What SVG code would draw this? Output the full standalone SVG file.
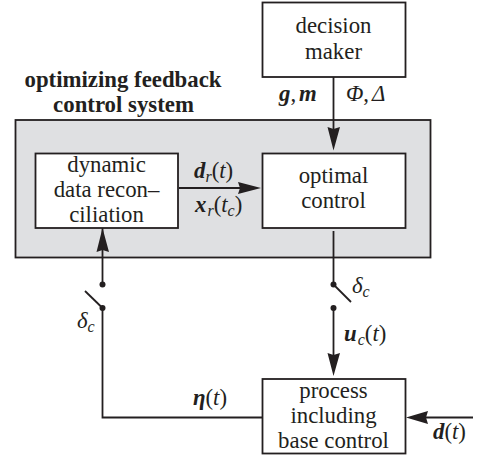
<svg xmlns="http://www.w3.org/2000/svg" width="480" height="457" viewBox="0 0 480 457">
<style>
.b{fill:#fff;stroke:#231f20;stroke-width:1.800}
text{font-family:"Liberation Serif","Times New Roman",serif;font-size:22.800px;fill:#231f20}
.c{text-anchor:middle}
.t{font-weight:bold;font-size:22.800px}
.i{font-style:italic}
.bi{font-style:italic;font-weight:bold}
.s{font-size:16px;font-style:italic}
.l{fill:none;stroke:#231f20;stroke-width:1.800}
.a{fill:#231f20;stroke:none}
.d{fill:#231f20}
</style>
<rect width="480" height="457" fill="#fff"/>
<g id="system"><rect x="15.500" y="120" width="415" height="137.500" fill="#dfe0e2" stroke="#231f20" stroke-width="1.800"/></g>
<text class="t c" x="123" y="87">optimizing feedback</text>
<text class="t c" x="123.500" y="112">control system</text>
<g id="connectors">
<path class="l" d="M333.500 77V136"/>
<path class="a" d="M327.500 127L333.500 129L340 127L333.500 150.500Z"/>
<path class="l" d="M179 188H246"/>
<path class="a" d="M238 182L240 188L238 194L261 188Z"/>
<path class="l" d="M102.500 228V284"/>
<path class="a" d="M96.500 252L102.500 250L109 252L102.500 228Z"/>
<path class="l" d="M333.500 231V284"/>
<circle class="d" cx="102.500" cy="284.500" r="3"/>
<circle class="d" cx="102.500" cy="308" r="3"/>
<path class="l" d="M102.500 308L85 291"/>
<circle class="d" cx="333.500" cy="284.500" r="3"/>
<circle class="d" cx="333.500" cy="308" r="3"/>
<path class="l" d="M333.500 284.500L351 302"/>
<path class="l" d="M333.500 308V360"/>
<path class="a" d="M327.500 353L333.500 355L340 353L333.500 376Z"/>
<path class="l" d="M102.500 308V417.500H262"/>
<path class="l" d="M473 417.500H420"/>
<path class="a" d="M428 411L426 417.500L428 424L406 417.500Z"/>
</g>
<g id="decision-maker"><rect class="b" x="262.500" y="2.500" width="143" height="74.500"/>
<text class="c" x="333.500" y="33">decision</text><text class="c" x="333.500" y="58.500">maker</text></g>
<g id="dynamic-data-reconciliation"><rect class="b" x="35.500" y="153.500" width="142.500" height="74.500"/>
<text class="c" x="106.500" y="172">dynamic</text><text class="c" x="106.500" y="197">data recon–</text><text class="c" x="106.500" y="222">ciliation</text></g>
<g id="optimal-control"><rect class="b" x="262.500" y="153.500" width="143" height="74.500"/>
<text class="c" x="333.500" y="183">optimal</text><text class="c" x="333.500" y="208">control</text></g>
<g id="process"><rect class="b" x="262.500" y="379" width="143" height="74.500"/>
<text class="c" x="333.500" y="398">process</text><text class="c" x="333.500" y="423">including</text><text class="c" x="333.500" y="448">base control</text></g>
<g id="labels">
<text x="279" y="101"><tspan class="bi">g</tspan>,<tspan class="bi" dx="3">m</tspan></text>
<text x="346" y="101"><tspan class="i">Φ</tspan>,<tspan class="i" dx="3">Δ</tspan></text>
<text x="194" y="178"><tspan class="bi">d</tspan><tspan class="s" dy="4">r</tspan><tspan dy="-4">(</tspan><tspan class="i">t</tspan>)</text>
<text x="195" y="212"><tspan class="bi">x</tspan><tspan class="s" dy="4" dx="1">r</tspan><tspan dy="-4">(</tspan><tspan class="i">t</tspan><tspan class="s" dy="4">c</tspan><tspan dy="-4">)</tspan></text>
<text x="352" y="293"><tspan class="i">δ</tspan><tspan class="s" dy="4">c</tspan></text>
<text x="77" y="328"><tspan class="i">δ</tspan><tspan class="s" dy="4">c</tspan></text>
<text x="344" y="341"><tspan class="bi">u</tspan><tspan class="s" dy="4" dx="1">c</tspan><tspan dy="-4">(</tspan><tspan class="i">t</tspan>)</text>
<text x="193" y="405"><tspan class="bi">η</tspan>(<tspan class="i">t</tspan>)</text>
<text x="433" y="439"><tspan class="bi">d</tspan>(<tspan class="i">t</tspan>)</text>
</g>
</svg>
